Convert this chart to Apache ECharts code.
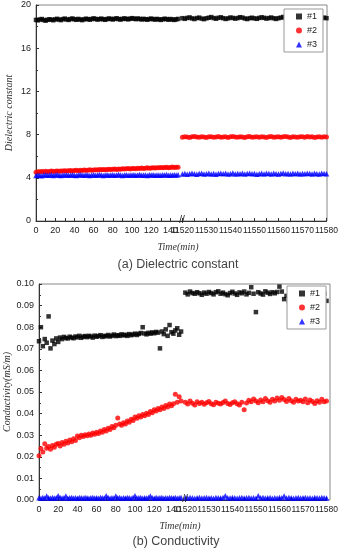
<!DOCTYPE html>
<html>
<head>
<meta charset="utf-8">
<script src="https://cdn.jsdelivr.net/npm/echarts@6/dist/echarts.min.js"></script>
<style>
  html, body { margin: 0; padding: 0; background: #fff; }
  #chart { width: 341px; height: 550px; }
</style>
</head>
<body>
<div id="chart"></div>
<script>
const seriesNames = ['#1', '#2', '#3']

const leftTime = [0, 2, 4, 6, 8, 10, 12, 14, 16, 18, 20, 22, 24, 26, 28, 30, 32, 34, 36, 38,
  40, 42, 44, 46, 48, 50, 52, 54, 56, 58, 60, 62, 64, 66, 68, 70, 72, 74, 76, 78,
  80, 82, 84, 86, 88, 90, 92, 94, 96, 98, 100, 102, 104, 106, 108, 110, 112, 114, 116, 118,
  120, 122, 124, 126, 128, 130, 132, 134, 136, 138, 140, 142, 144, 146, 148]
const rightTime = [11520, 11521, 11522, 11523, 11524, 11525, 11526, 11527, 11528, 11529,
  11530, 11531, 11532, 11533, 11534, 11535, 11536, 11537, 11538, 11539,
  11540, 11541, 11542, 11543, 11544, 11545, 11546, 11547, 11548, 11549,
  11550, 11551, 11552, 11553, 11554, 11555, 11556, 11557, 11558, 11559,
  11560, 11561, 11562, 11563, 11564, 11565, 11566, 11567, 11568, 11569,
  11570, 11571, 11572, 11573, 11574, 11575, 11576, 11577, 11578, 11579, 11580]

const leftTickLabels = [0, 20, 40, 60, 80, 100, 120, 140]
const leftTickMarks = [0, 10, 20, 30, 40, 50, 60, 70, 80, 90, 100, 110, 120, 130, 140]
const rightTickLabels = [11520, 11530, 11540, 11550, 11560, 11570, 11580]
const rightTickMarks = [11520, 11525, 11530, 11535, 11540, 11545, 11550, 11555, 11560, 11565, 11570, 11575, 11580]

// (a) dielectric constant
const dielLeft1 = [18.62, 18.58, 18.66, 18.70, 18.61, 18.55, 18.63, 18.68, 18.64, 18.59,
  18.67, 18.72, 18.65, 18.60, 18.69, 18.74, 18.66, 18.62, 18.70, 18.75,
  18.68, 18.63, 18.71, 18.66, 18.60, 18.67, 18.73, 18.69, 18.64, 18.70,
  18.76, 18.71, 18.65, 18.69, 18.74, 18.68, 18.63, 18.70, 18.75, 18.71,
  18.66, 18.72, 18.77, 18.70, 18.65, 18.71, 18.76, 18.72, 18.67, 18.73,
  18.78, 18.74, 18.69, 18.75, 18.71, 18.66, 18.72, 18.68, 18.64, 18.70,
  18.74, 18.69, 18.65, 18.71, 18.67, 18.62, 18.68, 18.73, 18.69, 18.64,
  18.70, 18.66, 18.62, 18.67, 18.71]
const dielLeft2 = [4.52, 4.57, 4.55, 4.58, 4.56, 4.60, 4.57, 4.59, 4.62, 4.58,
  4.61, 4.63, 4.60, 4.64, 4.62, 4.66, 4.63, 4.65, 4.68, 4.64,
  4.67, 4.69, 4.66, 4.70, 4.68, 4.72, 4.69, 4.71, 4.74, 4.70,
  4.73, 4.75, 4.72, 4.76, 4.74, 4.78, 4.75, 4.77, 4.80, 4.76,
  4.79, 4.81, 4.78, 4.82, 4.80, 4.84, 4.81, 4.83, 4.86, 4.82,
  4.85, 4.87, 4.84, 4.88, 4.86, 4.90, 4.87, 4.89, 4.92, 4.88,
  4.91, 4.93, 4.90, 4.94, 4.92, 4.96, 4.93, 4.95, 4.98, 4.94,
  4.96, 4.99, 4.95, 4.98, 4.97]
const dielLeft3 = [4.22, 4.27, 4.24, 4.20, 4.26, 4.29, 4.23, 4.25, 4.28, 4.21,
  4.26, 4.30, 4.24, 4.22, 4.27, 4.25, 4.29, 4.23, 4.26, 4.28,
  4.24, 4.21, 4.27, 4.30, 4.25, 4.23, 4.28, 4.26, 4.22, 4.27,
  4.29, 4.24, 4.26, 4.31, 4.25, 4.22, 4.27, 4.29, 4.24, 4.26,
  4.28, 4.23, 4.27, 4.30, 4.25, 4.22, 4.26, 4.29, 4.24, 4.27,
  4.25, 4.28, 4.23, 4.26, 4.30, 4.24, 4.27, 4.25, 4.22, 4.28,
  4.26, 4.29, 4.24, 4.27, 4.25, 4.23, 4.28, 4.26, 4.30, 4.24,
  4.27, 4.25, 4.29, 4.26, 4.28]
const dielRight1 = [18.78, 18.72, 18.80, 18.85, 18.76, 18.70, 18.79, 18.83, 18.74, 18.69,
  18.77, 18.82, 18.88, 18.79, 18.73, 18.81, 18.86, 18.78, 18.71, 18.76,
  18.84, 18.80, 18.74, 18.79, 18.87, 18.83, 18.75, 18.70, 18.78, 18.82,
  18.76, 18.72, 18.80, 18.86, 18.81, 18.74, 18.79, 18.84, 18.77, 18.71,
  18.78, 18.83, 18.89, 18.80, 18.75, 18.82, 18.86, 18.79, 18.73, 18.77,
  18.81, 18.85, 18.78, 18.72, 18.80, 18.84, 18.76, 18.71, 18.79, 18.83,
  18.78]
const dielRight2 = [7.76, 7.80, 7.78, 7.74, 7.79, 7.82, 7.77, 7.75, 7.80, 7.78,
  7.73, 7.79, 7.81, 7.76, 7.78, 7.82, 7.75, 7.77, 7.80, 7.74,
  7.79, 7.83, 7.77, 7.75, 7.81, 7.78, 7.74, 7.80, 7.82, 7.76,
  7.78, 7.81, 7.75, 7.79, 7.77, 7.73, 7.80, 7.82, 7.76, 7.78,
  7.81, 7.75, 7.79, 7.83, 7.77, 7.74, 7.80, 7.78, 7.76, 7.81,
  7.79, 7.75, 7.82, 7.77, 7.80, 7.74, 7.78, 7.81, 7.76, 7.79,
  7.77]
const dielRight3 = [4.36, 4.40, 4.34, 4.38, 4.42, 4.37, 4.33, 4.39, 4.41, 4.35,
  4.38, 4.43, 4.36, 4.40, 4.34, 4.39, 4.42, 4.37, 4.41, 4.35,
  4.38, 4.44, 4.36, 4.40, 4.37, 4.42, 4.35, 4.39, 4.43, 4.37,
  4.40, 4.34, 4.38, 4.42, 4.36, 4.41, 4.39, 4.35, 4.43, 4.38,
  4.36, 4.40, 4.44, 4.37, 4.39, 4.35, 4.41, 4.38, 4.42, 4.36,
  4.40, 4.37, 4.43, 4.39, 4.35, 4.41, 4.38, 4.36, 4.42, 4.39,
  4.37]

// (b) conductivity, mS/m
const condLeft1 = [0.0735, 0.0800, 0.0712, 0.0745, 0.0728, 0.0850, 0.0702, 0.0738, 0.0722, 0.0748,
  0.0732, 0.0752, 0.0745, 0.0755, 0.0750, 0.0748, 0.0756, 0.0752, 0.0749, 0.0757,
  0.0753, 0.0760, 0.0751, 0.0756, 0.0759, 0.0754, 0.0760, 0.0757, 0.0752, 0.0761,
  0.0756, 0.0759, 0.0763, 0.0755, 0.0760, 0.0758, 0.0764, 0.0757, 0.0761, 0.0766,
  0.0759, 0.0763, 0.0760, 0.0767, 0.0762, 0.0765, 0.0760, 0.0768, 0.0763, 0.0766,
  0.0770, 0.0764, 0.0769, 0.0773, 0.0800, 0.0771, 0.0767, 0.0774, 0.0770, 0.0776,
  0.0772, 0.0778, 0.0775, 0.0702, 0.0780, 0.0768, 0.0790, 0.0760, 0.0810, 0.0777,
  0.0770, 0.0785, 0.0795, 0.0765, 0.0780]
const condLeft2 = [0.0205, 0.0238, 0.0222, 0.0260, 0.0240, 0.0248, 0.0235, 0.0252, 0.0244, 0.0258,
  0.0262, 0.0250, 0.0266, 0.0258, 0.0272, 0.0264, 0.0278, 0.0270, 0.0284, 0.0276,
  0.0296, 0.0288, 0.0300, 0.0294, 0.0302, 0.0297, 0.0306, 0.0300, 0.0310, 0.0304,
  0.0314, 0.0308, 0.0320, 0.0314, 0.0326, 0.0320, 0.0332, 0.0326, 0.0340, 0.0334,
  0.0346, 0.0380, 0.0352, 0.0346, 0.0358, 0.0352, 0.0366, 0.0360, 0.0374, 0.0368,
  0.0384, 0.0378, 0.0390, 0.0384, 0.0396, 0.0390, 0.0402, 0.0396, 0.0410, 0.0404,
  0.0418, 0.0412, 0.0424, 0.0418, 0.0430, 0.0424, 0.0438, 0.0430, 0.0444, 0.0436,
  0.0446, 0.0490, 0.0452, 0.0478, 0.0458]
const condLeft3 = [0.0010, 0.0008, 0.0011, 0.0009, 0.0018, 0.0010, 0.0008, 0.0011, 0.0009, 0.0010,
  0.0020, 0.0011, 0.0009, 0.0010, 0.0019, 0.0008, 0.0010, 0.0011, 0.0009, 0.0010,
  0.0008, 0.0011, 0.0010, 0.0009, 0.0011, 0.0010, 0.0008, 0.0010, 0.0011, 0.0009,
  0.0010, 0.0008, 0.0011, 0.0010, 0.0009, 0.0020, 0.0011, 0.0008, 0.0010, 0.0009,
  0.0019, 0.0010, 0.0011, 0.0008, 0.0010, 0.0009, 0.0011, 0.0010, 0.0008, 0.0011,
  0.0020, 0.0009, 0.0010, 0.0011, 0.0008, 0.0010, 0.0009, 0.0011, 0.0019, 0.0010,
  0.0008, 0.0011, 0.0009, 0.0010, 0.0011, 0.0008, 0.0010, 0.0009, 0.0011, 0.0010,
  0.0009, 0.0011, 0.0008, 0.0010, 0.0011]
const condRight1 = [0.0960, 0.0952, 0.0965, 0.0958, 0.0955, 0.0962, 0.0957, 0.0950, 0.0960, 0.0955,
  0.0963, 0.0958, 0.0952, 0.0962, 0.0966, 0.0955, 0.0960, 0.0953, 0.0948, 0.0958,
  0.0964, 0.0956, 0.0950, 0.0961, 0.0957, 0.0965, 0.0952, 0.0959, 0.0985, 0.0955,
  0.0870, 0.0962, 0.0956, 0.0951, 0.0966, 0.0960, 0.0954, 0.0962, 0.0957, 0.0963,
  0.0988, 0.0965, 0.0930, 0.0945, 0.0920, 0.0958, 0.0962, 0.0955, 0.0960, 0.0953,
  0.0962, 0.0957, 0.0963, 0.0955, 0.0960, 0.0958, 0.0952, 0.0961, 0.0956, 0.0955,
  0.0922]
const condRight2 = [0.0452, 0.0445, 0.0458, 0.0448, 0.0440, 0.0455, 0.0447, 0.0452, 0.0443, 0.0450,
  0.0456, 0.0446, 0.0441, 0.0453, 0.0448, 0.0444, 0.0451, 0.0458, 0.0447, 0.0442,
  0.0450, 0.0455, 0.0446, 0.0440, 0.0452, 0.0418, 0.0449, 0.0462, 0.0455, 0.0468,
  0.0458, 0.0450, 0.0463, 0.0455, 0.0470, 0.0460, 0.0452, 0.0466, 0.0458, 0.0472,
  0.0462, 0.0475, 0.0465, 0.0456, 0.0470, 0.0460, 0.0452, 0.0466, 0.0458, 0.0462,
  0.0455, 0.0468, 0.0450, 0.0463, 0.0456, 0.0447, 0.0460, 0.0452, 0.0466, 0.0455,
  0.0458]
const condRight3 = [0.0010, 0.0009, 0.0011, 0.0010, 0.0008, 0.0010, 0.0011, 0.0009, 0.0010, 0.0011,
  0.0009, 0.0010, 0.0008, 0.0011, 0.0010, 0.0009, 0.0011, 0.0020, 0.0010, 0.0009,
  0.0011, 0.0010, 0.0008, 0.0010, 0.0011, 0.0009, 0.0010, 0.0011, 0.0009, 0.0010,
  0.0008, 0.0020, 0.0010, 0.0011, 0.0009, 0.0010, 0.0011, 0.0008, 0.0010, 0.0009,
  0.0011, 0.0010, 0.0019, 0.0009, 0.0011, 0.0010, 0.0008, 0.0010, 0.0011, 0.0009,
  0.0010, 0.0011, 0.0009, 0.0010, 0.0008, 0.0011, 0.0010, 0.0009, 0.0011, 0.0010,
  0.0009]

const symbols = ['rect', 'circle', 'triangle']
const symbolSizes = [4.5, 5, 5.5]
const colors = ['#000000', '#ff0000', '#0000ff']

const zip = (xs, ys) => xs.map((x, i) => [x, ys[i]])

const labelFont = { fontFamily: 'Liberation Sans', fontSize: 9, color: '#222' }
const axisLineStyle = { color: '#333', width: 1 }

function timeAxis (gridIndex, min, max, tickMarks, tickLabels, fontSize) {
  return {
    type: 'value', gridIndex, min, max,
    splitLine: { show: false },
    axisLine: { lineStyle: axisLineStyle },
    axisTick: { inside: true, length: 3, customValues: tickMarks, lineStyle: axisLineStyle },
    axisLabel: Object.assign({}, labelFont, {
      margin: 5, customValues: tickLabels, hideOverlap: false, fontSize,
      showMinLabel: true, showMaxLabel: true, formatter: v => String(v)
    })
  }
}

function hiddenAxis (gridIndex, min, max) {
  return { type: 'value', gridIndex, min, max, show: false, splitLine: { show: false } }
}

function buildSeries (xIndexL, xIndexR, leftData, rightData) {
  const out = []
  seriesNames.forEach((name, k) => {
    const base = {
      name, type: 'scatter', symbol: symbols[k], symbolSize: symbolSizes[k],
      itemStyle: { color: colors[k] }, z: 2 + k
    }
    out.push(Object.assign({}, base, { xAxisIndex: xIndexL, yAxisIndex: xIndexL, data: zip(leftTime, leftData[k]) }))
    out.push(Object.assign({}, base, { xAxisIndex: xIndexR, yAxisIndex: xIndexR, data: zip(rightTime, rightData[k]) }))
  })
  return out
}

const legendBase = {
  orient: 'vertical', itemWidth: 6, itemHeight: 6, itemGap: 5,
  padding: [3, 6, 3, 12], borderColor: '#999', borderWidth: 1, backgroundColor: '#fff',
  borderRadius: 0, data: seriesNames,
  textStyle: { fontFamily: 'Liberation Sans', fontSize: 9, color: '#222' }
}

const nameFont = { fontFamily: 'Liberation Serif', fontStyle: 'italic', fontSize: 10, color: '#333' }

const chart = echarts.init(document.getElementById('chart'))
chart.setOption({
  animation: false,
  backgroundColor: '#fff',
  grid: [
    { left: 36, top: 5, width: 291, height: 216, show: true, borderColor: '#888', borderWidth: 1 },
    { left: 36, top: 5, width: 144, height: 216 },
    { left: 180, top: 5, width: 147, height: 216 },
    { left: 39, top: 284, width: 291, height: 216, show: true, borderColor: '#888', borderWidth: 1 },
    { left: 39, top: 284, width: 144, height: 216 },
    { left: 183, top: 284, width: 147, height: 216 }
  ],
  xAxis: [
    hiddenAxis(0, 0, 1),
    timeAxis(1, 0, 150, leftTickMarks, leftTickLabels, 9),
    timeAxis(2, 11519, 11580, rightTickMarks, rightTickLabels, 8.5),
    hiddenAxis(3, 0, 1),
    timeAxis(4, 0, 150, leftTickMarks, leftTickLabels, 9),
    timeAxis(5, 11519, 11580, rightTickMarks, rightTickLabels, 8.5)
  ],
  yAxis: [
    hiddenAxis(0, 0, 1),
    {
      type: 'value', gridIndex: 1, min: 0, max: 20, interval: 4,
      name: 'Dielectric constant', nameLocation: 'middle', nameGap: 22, nameTextStyle: nameFont,
      splitLine: { show: false },
      axisLine: { lineStyle: axisLineStyle },
      axisTick: { inside: true, length: 3, lineStyle: axisLineStyle },
      minorTick: { show: true, splitNumber: 2, length: 2, lineStyle: axisLineStyle },
      axisLabel: Object.assign({ margin: 5 }, labelFont)
    },
    hiddenAxis(2, 0, 20),
    hiddenAxis(3, 0, 1),
    {
      type: 'value', gridIndex: 4, min: 0, max: 0.1, interval: 0.01,
      name: 'Conductivity(mS/m)', nameLocation: 'middle', nameGap: 26, nameTextStyle: nameFont,
      splitLine: { show: false },
      axisLine: { lineStyle: axisLineStyle },
      axisTick: { inside: true, length: 3, lineStyle: axisLineStyle },
      minorTick: { show: true, splitNumber: 2, length: 2, lineStyle: axisLineStyle },
      axisLabel: Object.assign({ margin: 5, formatter: v => v.toFixed(2) }, labelFont)
    },
    hiddenAxis(5, 0, 0.1)
  ],
  legend: [
    Object.assign({ left: 284, top: 9 }, legendBase),
    Object.assign({ left: 287, top: 286 }, legendBase)
  ],
  graphic: [
    { type: 'text', x: 182, y: 220, z: 10, style: { text: '//', fontSize: 10, fontFamily: 'Liberation Sans', fill: '#222', align: 'center', verticalAlign: 'middle' } },
    { type: 'text', x: 185, y: 499, z: 10, style: { text: '//', fontSize: 10, fontFamily: 'Liberation Sans', fill: '#222', align: 'center', verticalAlign: 'middle' } },
    { type: 'text', x: 178, y: 247, style: { text: 'Time(min)', align: 'center', verticalAlign: 'middle', fill: '#333', font: 'italic 10px "Liberation Serif"' } },
    { type: 'text', x: 178, y: 265, style: { text: '(a) Dielectric constant', align: 'center', verticalAlign: 'middle', fill: '#444', font: '12.5px "Liberation Sans"' } },
    { type: 'text', x: 180, y: 526, style: { text: 'Time(min)', align: 'center', verticalAlign: 'middle', fill: '#333', font: 'italic 10px "Liberation Serif"' } },
    { type: 'text', x: 176, y: 542, style: { text: '(b) Conductivity', align: 'center', verticalAlign: 'middle', fill: '#444', font: '12.5px "Liberation Sans"' } }
  ],
  series: [].concat(
    buildSeries(1, 2, [dielLeft1, dielLeft2, dielLeft3], [dielRight1, dielRight2, dielRight3]),
    buildSeries(4, 5, [condLeft1, condLeft2, condLeft3], [condRight1, condRight2, condRight3])
  )
})
</script>
</body>
</html>
